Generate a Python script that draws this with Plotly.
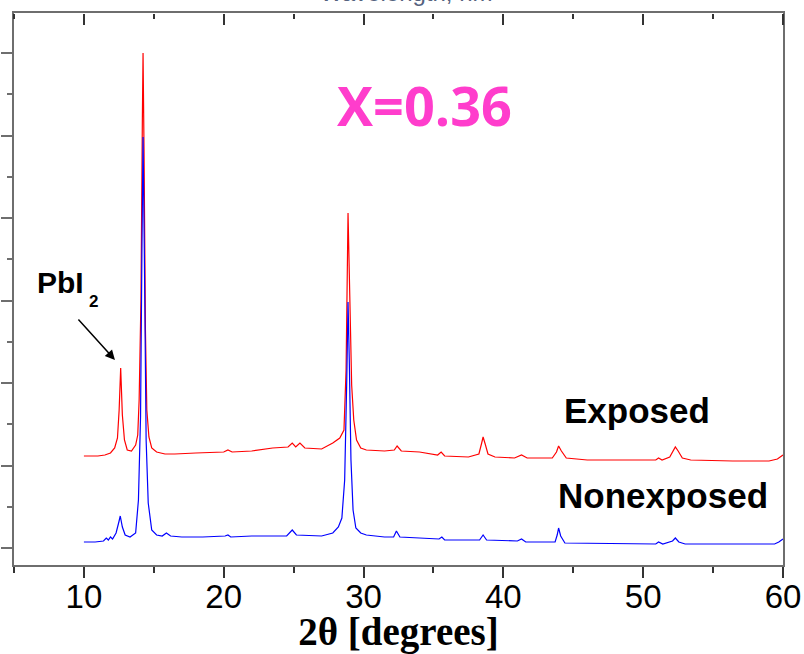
import plotly.graph_objects as go

# ---- data (2theta in degrees, intensity in arbitrary units) ----
exposed_2theta = [10.0, 10.5, 11.0, 11.5, 11.9, 12.2, 12.4, 12.52, 12.63, 12.75, 12.9, 13.1, 13.4, 13.7,
                  13.85, 13.95, 14.08, 14.18, 14.23, 14.3, 14.4, 14.5, 14.65, 14.85, 15.2, 15.8, 16.5,
                  18.0, 20.0, 20.3, 20.6, 22.0, 23.5, 24.6, 24.9, 25.15, 25.45, 25.8, 27.0, 27.8, 28.3,
                  28.6, 28.75, 28.89, 29.02, 29.15, 29.3, 29.5, 29.8, 30.2, 31.5, 32.2, 32.4, 32.7,
                  34.0, 34.5, 35.3, 35.55, 35.8, 37.5, 38.25, 38.45, 38.55, 38.7, 38.9, 39.4, 40.8,
                  41.3, 41.7, 43.5, 43.8, 43.95, 44.15, 44.5, 46.0, 49.0, 50.9, 51.1, 51.35, 51.9,
                  52.15, 52.3, 52.5, 52.8, 53.4, 56.4, 59.0, 59.6, 60.0]
exposed_int = [144, 144, 144, 145, 147, 152, 162, 190, 232, 185, 160, 150, 149, 155,
               165, 200, 300, 480, 547, 450, 270, 190, 163, 152, 148, 146, 146,
               147, 148, 150, 148, 149, 152, 153, 157, 153, 157, 152, 151, 157, 162,
               170, 230, 387, 300, 215, 180, 160, 152, 150, 149, 150, 154, 149,
               148, 147, 145, 148, 144, 143, 146, 157, 163, 156, 146, 143, 142,
               145, 142, 142, 148, 154, 149, 142, 140, 140, 140, 142, 140, 143,
               150, 153, 149, 142, 140, 139, 139, 141, 145]

nonexposed_2theta = [10.0, 10.8, 11.4, 11.6, 11.75, 11.9, 12.05, 12.3, 12.5, 12.6, 12.75, 12.95, 13.3,
                     13.7, 13.9, 14.05, 14.15, 14.23, 14.32, 14.45, 14.6, 14.85, 15.2, 15.6, 15.9,
                     16.2, 17.0, 18.5, 20.1, 20.3, 20.5, 22.0, 24.5, 24.9, 25.2, 27.0, 27.8, 28.2,
                     28.45, 28.65, 28.8, 28.89, 28.98, 29.1, 29.25, 29.45, 29.8, 30.2, 31.5, 32.15,
                     32.35, 32.6, 35.4, 35.6, 35.8, 38.3, 38.55, 38.8, 41.0, 41.3, 41.6, 43.7, 43.85,
                     43.95, 44.1, 44.4, 50.9, 51.1, 51.4, 52.1, 52.3, 52.55, 53.0, 59.4, 59.7, 60.0]
nonexposed_int = [58, 58, 59, 62, 60, 63, 61, 67, 78, 84, 73, 65, 63,
                  67, 100, 183, 350, 463, 350, 160, 97, 70, 65, 64, 67,
                  64, 63, 63, 64, 65, 63, 64, 64, 70, 65, 64, 67, 73,
                  82, 120, 220, 298, 240, 140, 90, 72, 67, 65, 63, 63,
                  69, 63, 61, 63, 60, 60, 65, 60, 59, 61, 58, 58, 65,
                  72, 64, 57, 56, 58, 56, 59, 62, 58, 56, 56, 58, 61]

x_tick_vals = [10, 20, 30, 40, 50, 60]
x_tick_text = ["10", "20", "30", "40", "50", "60"]
x_range = [5, 60]
y_range = [35, 587]

AX = "#6e6e6e"
SANS = "Liberation Sans, Arial, sans-serif"

fig = go.Figure()
fig.add_trace(go.Scatter(x=exposed_2theta, y=exposed_int, mode="lines",
                         line=dict(color="#ff0000", width=1.2), name="Exposed"))
fig.add_trace(go.Scatter(x=nonexposed_2theta, y=nonexposed_int, mode="lines",
                         line=dict(color="#0000ff", width=1.2), name="Nonexposed"))
# helper trace for a hair-thin subplot at the top edge, whose axis carries the downward top ticks
fig.add_trace(go.Scatter(x=[7], y=[0], xaxis="x2", yaxis="y2", showlegend=False,
                         mode="markers", marker=dict(opacity=0), hoverinfo="skip"))

fig.update_layout(
    width=804, height=654,
    margin=dict(l=14, r=21, t=13, b=89),
    paper_bgcolor="white", plot_bgcolor="rgba(0,0,0,0)",
    showlegend=False,
    xaxis=dict(range=x_range, tickvals=x_tick_vals, ticktext=x_tick_text, automargin=False,
               domain=[0, 1],
               ticks="outside", ticklen=11, tickwidth=1.5, tickcolor="#333",
               minor=dict(dtick=5, tick0=0, ticks="outside", ticklen=6, tickwidth=1.5, tickcolor="#333"),
               showline=True, linecolor=AX, linewidth=2, mirror=True, showgrid=False, zeroline=False,
               ticklabelstandoff=-10,
               tickfont=dict(family=SANS, size=33, color="black"),
               title=dict(text="<b>2θ [degrees]</b>", standoff=11,
                          font=dict(family="Liberation Serif, Times New Roman, serif", size=39,
                                    color="black"))),
    yaxis=dict(range=y_range, domain=[0, 1], tick0=52, dtick=82.5, ticks="outside", ticklen=11,
               tickwidth=1.5, automargin=False,
               tickcolor=AX, minor=dict(tick0=52, dtick=41.25, ticks="outside", ticklen=5,
                                        tickwidth=1.5, tickcolor=AX),
               showticklabels=False, showline=True, linecolor=AX, linewidth=2, mirror=True,
               showgrid=False, zeroline=False),
    xaxis2=dict(range=x_range, domain=[0, 1], anchor="y2", side="bottom", tick0=0, dtick=10,
                automargin=False,
                ticks="outside", ticklen=11, tickwidth=1.5, tickcolor="#333",
                minor=dict(dtick=5, tick0=0, ticks="outside", ticklen=5, tickwidth=1.5, tickcolor="#333"),
                showticklabels=False, showline=False, showgrid=False, zeroline=False),
    yaxis2=dict(range=[-1, 1], domain=[0.9995, 1], anchor="x2", visible=False,
                showgrid=False, zeroline=False),
)

annotations = [
    dict(x=34.33, y=495, xref="x", yref="y", text="<b>X=0.36</b>", showarrow=False,
         xanchor="center", yanchor="middle",
         font=dict(family="Open Sans, sans-serif", size=54, color="#ff3dcc")),
    dict(x=6.5, y=318, xref="x", yref="y", text="<b>PbI</b>", showarrow=False,
         xanchor="left", yanchor="middle", font=dict(family=SANS, size=30, color="black")),
    dict(x=10.2, y=299, xref="x", yref="y", text="<b>2</b>", showarrow=False,
         xanchor="left", yanchor="middle", font=dict(family=SANS, size=17, color="black")),
    dict(x=12.22, y=240, xref="x", yref="y", ax=9.51, ay=282, axref="x", ayref="y",
         text="", showarrow=True, arrowhead=2, arrowsize=1.3, arrowwidth=1.5, arrowcolor="black"),
    dict(x=44.2, y=190, xref="x", yref="y", text="<b>Exposed</b>", showarrow=False,
         xanchor="left", yanchor="middle", font=dict(family=SANS, size=35, color="black")),
    dict(x=43.75, y=105, xref="x", yref="y", text="<b>Nonexposed</b>", showarrow=False,
         xanchor="left", yanchor="middle", font=dict(family=SANS, size=35, color="black")),
    dict(x=0.51, y=1.009, xref="paper", yref="paper", text="Wavelength, nm", showarrow=False,
         xanchor="center", yanchor="bottom", font=dict(family=SANS, size=24, color="#55627e")),
]
fig.update_layout(annotations=annotations)

fig.write_html("out.html")
